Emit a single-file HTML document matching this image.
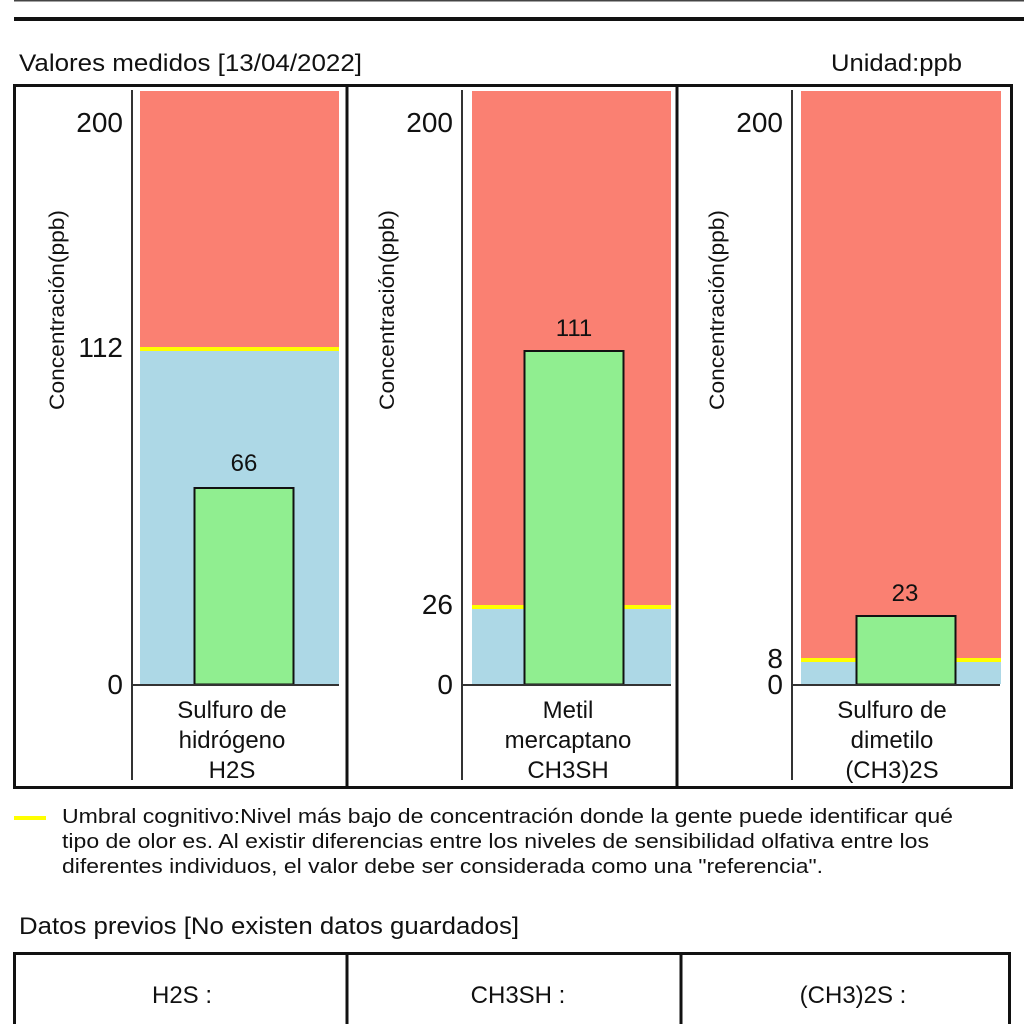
<!DOCTYPE html>
<html><head><meta charset="utf-8"><style>
html,body{margin:0;padding:0;background:#fff;}
svg{display:block;font-family:"Liberation Sans",sans-serif;}
</style></head><body>
<svg width="1024" height="1024" viewBox="0 0 1024 1024" xmlns="http://www.w3.org/2000/svg">
<rect width="1024" height="1024" fill="#fff"/>
<line x1="14" y1="0" x2="1024" y2="0" stroke="#444" stroke-width="3"/>
<line x1="14" y1="19" x2="1024" y2="19" stroke="#111" stroke-width="4"/>
<text x="19" y="71" font-size="24" fill="#111" textLength="343" lengthAdjust="spacingAndGlyphs">Valores medidos [13/04/2022]</text>
<text x="831" y="71" font-size="24" fill="#111" textLength="131" lengthAdjust="spacingAndGlyphs">Unidad:ppb</text>
<rect x="14.5" y="85.5" width="997" height="702" fill="none" stroke="#111" stroke-width="3"/>
<line x1="347" y1="85" x2="347" y2="788" stroke="#111" stroke-width="3"/>
<line x1="677" y1="85" x2="677" y2="788" stroke="#111" stroke-width="3"/>

<!-- Panel 1 -->
<rect x="140" y="91" width="199" height="593" fill="#fa8072"/>
<rect x="140" y="349" width="199" height="335" fill="#add8e6"/>
<rect x="140" y="347" width="199" height="4" fill="#ffff00"/>
<rect x="194.5" y="488" width="99" height="196.5" fill="#90ee90" stroke="#111" stroke-width="2"/>
<text x="244" y="471" font-size="24" text-anchor="middle" fill="#111">66</text>
<line x1="132" y1="90" x2="132" y2="780" stroke="#333" stroke-width="2"/>
<line x1="132" y1="685" x2="339" y2="685" stroke="#333" stroke-width="2"/>
<text x="123" y="132" font-size="28" text-anchor="end" fill="#111">200</text>
<text x="123" y="357" font-size="28" text-anchor="end" fill="#111">112</text>
<text x="123" y="694" font-size="28" text-anchor="end" fill="#111">0</text>
<text transform="translate(64,310) rotate(-90)" font-size="21" text-anchor="middle" fill="#111" textLength="200" lengthAdjust="spacingAndGlyphs">Concentración(ppb)</text>
<text x="232" y="718" font-size="24" text-anchor="middle" fill="#111">Sulfuro de</text>
<text x="232" y="748" font-size="24" text-anchor="middle" fill="#111">hidrógeno</text>
<text x="232" y="778" font-size="24" text-anchor="middle" fill="#111">H2S</text>

<!-- Panel 2 -->
<rect x="472" y="91" width="199" height="593" fill="#fa8072"/>
<rect x="472" y="608" width="199" height="76" fill="#add8e6"/>
<rect x="472" y="605" width="199" height="4" fill="#ffff00"/>
<rect x="524.5" y="351" width="99" height="333.5" fill="#90ee90" stroke="#111" stroke-width="2"/>
<text x="574" y="336" font-size="24" text-anchor="middle" fill="#111">111</text>
<line x1="462" y1="90" x2="462" y2="780" stroke="#333" stroke-width="2"/>
<line x1="462" y1="685" x2="671" y2="685" stroke="#333" stroke-width="2"/>
<text x="453" y="132" font-size="28" text-anchor="end" fill="#111">200</text>
<text x="453" y="614" font-size="28" text-anchor="end" fill="#111">26</text>
<text x="453" y="694" font-size="28" text-anchor="end" fill="#111">0</text>
<text transform="translate(394,310) rotate(-90)" font-size="21" text-anchor="middle" fill="#111" textLength="200" lengthAdjust="spacingAndGlyphs">Concentración(ppb)</text>
<text x="568" y="718" font-size="24" text-anchor="middle" fill="#111">Metil</text>
<text x="568" y="748" font-size="24" text-anchor="middle" fill="#111">mercaptano</text>
<text x="568" y="778" font-size="24" text-anchor="middle" fill="#111">CH3SH</text>

<!-- Panel 3 -->
<rect x="801" y="91" width="200" height="593" fill="#fa8072"/>
<rect x="801" y="661" width="200" height="23" fill="#add8e6"/>
<rect x="801" y="658" width="200" height="4" fill="#ffff00"/>
<rect x="856.5" y="616" width="99" height="68.5" fill="#90ee90" stroke="#111" stroke-width="2"/>
<text x="905" y="601" font-size="24" text-anchor="middle" fill="#111">23</text>
<line x1="792" y1="90" x2="792" y2="780" stroke="#333" stroke-width="2"/>
<line x1="792" y1="685" x2="1000" y2="685" stroke="#333" stroke-width="2"/>
<text x="783" y="132" font-size="28" text-anchor="end" fill="#111">200</text>
<text x="783" y="668" font-size="28" text-anchor="end" fill="#111">8</text>
<text x="783" y="694" font-size="28" text-anchor="end" fill="#111">0</text>
<text transform="translate(724,310) rotate(-90)" font-size="21" text-anchor="middle" fill="#111" textLength="200" lengthAdjust="spacingAndGlyphs">Concentración(ppb)</text>
<text x="892" y="718" font-size="24" text-anchor="middle" fill="#111">Sulfuro de</text>
<text x="892" y="748" font-size="24" text-anchor="middle" fill="#111">dimetilo</text>
<text x="892" y="778" font-size="24" text-anchor="middle" fill="#111">(CH3)2S</text>

<!-- Legend -->
<rect x="14" y="816" width="32" height="4" fill="#ffff00"/>
<text x="62" y="823" font-size="20" fill="#111" textLength="891" lengthAdjust="spacingAndGlyphs">Umbral cognitivo:Nivel más bajo de concentración donde la gente puede identificar qué</text>
<text x="62" y="848" font-size="20" fill="#111" textLength="867" lengthAdjust="spacingAndGlyphs">tipo de olor es. Al existir diferencias entre los niveles de sensibilidad olfativa entre los</text>
<text x="62" y="873" font-size="20" fill="#111" textLength="761" lengthAdjust="spacingAndGlyphs">diferentes individuos, el valor debe ser considerada como una "referencia".</text>

<text x="19" y="934" font-size="24" fill="#111" textLength="500" lengthAdjust="spacingAndGlyphs">Datos previos [No existen datos guardados]</text>
<rect x="14.5" y="953.5" width="995" height="80" fill="none" stroke="#111" stroke-width="3"/>
<line x1="347" y1="953" x2="347" y2="1024" stroke="#111" stroke-width="3"/>
<line x1="681" y1="953" x2="681" y2="1024" stroke="#111" stroke-width="3"/>
<text x="182" y="1003" font-size="24" text-anchor="middle" fill="#111">H2S :</text>
<text x="518" y="1003" font-size="24" text-anchor="middle" fill="#111">CH3SH :</text>
<text x="853" y="1003" font-size="24" text-anchor="middle" fill="#111">(CH3)2S :</text>
</svg>
</body></html>
